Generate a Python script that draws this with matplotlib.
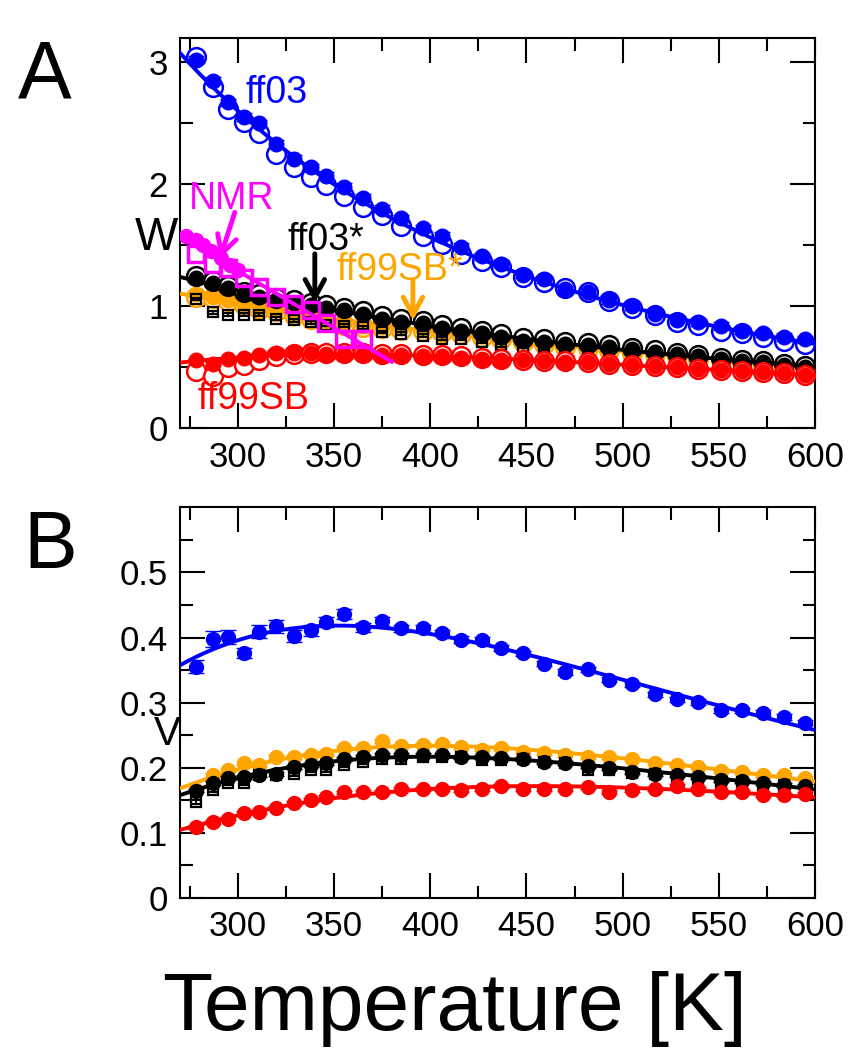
import numpy as np
import matplotlib.pyplot as plt

plt.rcParams['font.family'] = ['Liberation Sans', 'DejaVu Sans']

# replica temperatures [K]
temps = np.array([278, 287, 295, 303, 311, 320, 329, 338, 346, 355, 365, 375, 385, 396, 406, 416,
                  427, 437, 448, 459, 470, 482, 493, 505, 517, 528, 539, 551, 562, 573, 584, 595])

# ---- panel A: w ----
w_ff03 = [3.02, 2.85, 2.67, 2.55, 2.50, 2.33, 2.21, 2.14, 2.07, 1.98, 1.89, 1.80, 1.72, 1.64, 1.58, 1.49,
          1.41, 1.35, 1.26, 1.22, 1.14, 1.12, 1.05, 1.00, 0.94, 0.89, 0.87, 0.84, 0.80, 0.78, 0.75, 0.73]
w_ff03_open = [3.04, 2.80, 2.62, 2.51, 2.42, 2.25, 2.14, 2.06, 1.99, 1.90, 1.81, 1.75, 1.66, 1.58, 1.51, 1.43,
               1.37, 1.32, 1.24, 1.20, 1.15, 1.12, 1.04, 0.99, 0.93, 0.87, 0.85, 0.80, 0.78, 0.75, 0.72, 0.69]
w_ff03s = [1.23, 1.19, 1.15, 1.10, 1.08, 1.05, 1.03, 1.01, 0.99, 0.97, 0.94, 0.90, 0.87, 0.86, 0.82, 0.80,
           0.78, 0.75, 0.72, 0.71, 0.69, 0.68, 0.67, 0.65, 0.63, 0.61, 0.59, 0.57, 0.55, 0.54, 0.52, 0.50]
w_ff03s_open = [1.25, 1.21, 1.17, 1.12, 1.10, 1.07, 1.05, 1.03, 1.01, 0.99, 0.96, 0.92, 0.90, 0.88, 0.85, 0.82,
                0.80, 0.77, 0.74, 0.73, 0.71, 0.70, 0.68, 0.66, 0.64, 0.62, 0.60, 0.58, 0.56, 0.55, 0.53, 0.51]
w_ff03s_sq = [1.06, 0.95, 0.93, 0.93, 0.93, 0.90, 0.885, 0.87, 0.85, 0.84, 0.83, 0.79, 0.775, 0.76, 0.735, 0.735,
              0.71, 0.68, 0.67, 0.65, 0.63, 0.62, 0.60, 0.58, 0.57, 0.55, 0.54, 0.52, 0.51, 0.49, 0.48, 0.46]
w_ff99sbs = [1.10, 1.08, 1.05, 1.02, 0.99, 0.97, 0.94, 0.91, 0.88, 0.86, 0.84, 0.83, 0.82, 0.81, 0.80, 0.78,
             0.76, 0.74, 0.72, 0.70, 0.68, 0.67, 0.65, 0.63, 0.62, 0.60, 0.58, 0.57, 0.55, 0.54, 0.52, 0.51]
w_ff99sbs_open = [1.08, 1.07, 1.04, 1.01, 0.98, 0.96, 0.93, 0.90, 0.87, 0.85, 0.83, 0.82, 0.81, 0.80, 0.79, 0.77,
                  0.75, 0.73, 0.71, 0.69, 0.67, 0.66, 0.64, 0.62, 0.61, 0.59, 0.57, 0.56, 0.54, 0.53, 0.51, 0.50]
w_ff99sb = [0.56, 0.53, 0.57, 0.58, 0.60, 0.62, 0.62, 0.62, 0.61, 0.61, 0.61, 0.60, 0.60, 0.59, 0.59, 0.58,
            0.57, 0.56, 0.56, 0.55, 0.54, 0.54, 0.53, 0.52, 0.51, 0.50, 0.49, 0.48, 0.47, 0.46, 0.45, 0.44]
w_ff99sb_open = [0.47, 0.43, 0.50, 0.52, 0.56, 0.59, 0.61, 0.62, 0.62, 0.62, 0.62, 0.61, 0.61, 0.60, 0.60, 0.59,
                 0.58, 0.57, 0.56, 0.55, 0.55, 0.54, 0.53, 0.52, 0.51, 0.50, 0.49, 0.48, 0.47, 0.46, 0.45, 0.44]
nmr_temps = [273, 278, 282, 286, 291, 296, 300]
w_nmr = [1.58, 1.54, 1.50, 1.45, 1.40, 1.34, 1.30]
nmr_sq_temps = [278, 287, 295, 303, 311, 320, 329, 338, 346, 355, 365]
w_nmr_sq = [1.43, 1.35, 1.31, 1.23, 1.16, 1.08, 1.02, 0.97, 0.86, 0.735, 0.735]

# ---- panel B: v ----
v_ff03 = [0.355, 0.398, 0.401, 0.376, 0.409, 0.417, 0.402, 0.411, 0.424, 0.436, 0.416, 0.425, 0.414, 0.414, 0.407, 0.397,
          0.396, 0.384, 0.376, 0.360, 0.347, 0.351, 0.335, 0.328, 0.313, 0.305, 0.301, 0.288, 0.288, 0.284, 0.278, 0.269]
v_ff03_err = [0.010, 0.012, 0.011, 0.008, 0.010, 0.010, 0.009, 0.008, 0.008, 0.008, 0.007, 0.007, 0.006, 0.006, 0.005, 0.005,
              0.005, 0.004, 0.004, 0.004, 0.004, 0.004, 0.004, 0.004, 0.004, 0.004, 0.004, 0.004, 0.004, 0.004, 0.004, 0.004]
v_ff99sbs = [0.166, 0.189, 0.196, 0.207, 0.204, 0.216, 0.217, 0.219, 0.221, 0.231, 0.231, 0.241, 0.233, 0.235, 0.237, 0.232,
             0.228, 0.230, 0.224, 0.223, 0.220, 0.216, 0.216, 0.213, 0.208, 0.204, 0.201, 0.195, 0.194, 0.189, 0.189, 0.184]
v_ff03s = [0.165, 0.176, 0.184, 0.186, 0.189, 0.191, 0.201, 0.204, 0.207, 0.213, 0.216, 0.219, 0.219, 0.219, 0.219, 0.217,
           0.216, 0.215, 0.214, 0.209, 0.207, 0.202, 0.200, 0.194, 0.191, 0.189, 0.186, 0.181, 0.180, 0.176, 0.174, 0.172]
v_ff03s_sq = [0.148, 0.166, 0.176, 0.176, 0.189, 0.189, 0.191, 0.196, 0.196, 0.204, 0.209, 0.214, 0.214, 0.217, 0.217, 0.217,
              0.212, 0.212, 0.213, 0.209, 0.207, 0.197, 0.197, 0.192, 0.191, 0.186, 0.182, 0.176, 0.178, 0.173, 0.173, 0.166]
v_ff99sb = [0.109, 0.116, 0.122, 0.130, 0.132, 0.138, 0.146, 0.151, 0.155, 0.162, 0.163, 0.163, 0.167, 0.167, 0.167, 0.166,
            0.168, 0.172, 0.168, 0.167, 0.168, 0.171, 0.163, 0.166, 0.168, 0.172, 0.168, 0.162, 0.163, 0.158, 0.158, 0.160]

BLUE, BLACK, ORANGE, RED, MAGENTA = '#0000ff', '#000000', '#ffa500', '#ff0000', '#ff00ff'

fig = plt.figure(figsize=(8.62, 10.5), dpi=100)
axA = fig.add_axes([0.209, 0.592, 0.7365, 0.372])
axB = fig.add_axes([0.209, 0.1448, 0.7365, 0.372])

tfit = np.linspace(270, 600, 300)


def fit_line(ax, x, y, color, x_range=tfit, z=2):
    # van't Hoff style fit with heat capacity: ln y = a + b/T + c ln T
    x = np.asarray(x, float)
    basis = lambda t: np.column_stack([np.ones_like(t), 1.0 / t, np.log(t)])
    coef, *_ = np.linalg.lstsq(basis(x), np.log(y), rcond=None)
    ax.plot(x_range, np.exp(basis(x_range) @ coef), color=color, lw=2.8, zorder=z)


def pts(ax, y, color, err, z, open_=False, marker='o', ms=10.5, x=temps):
    face = 'white' if open_ else color
    mew = 1.8 if open_ else 1
    ax.errorbar(x, y, yerr=err, fmt=marker, ms=ms, mfc=face, mec=color, mew=mew,
                ecolor=color, elinewidth=1.5, capsize=6, capthick=1.5, zorder=z)


def style_axes(ax):
    ax.set_xlim(270, 600)
    ax.set_xticks(np.arange(300, 601, 50))
    ax.set_xticks(np.arange(275, 601, 25), minor=True)
    ax.tick_params(which='both', direction='in', top=True, right=True, width=1.5,
                   labelsize=25, pad=9)
    ax.tick_params(which='major', length=18)
    ax.tick_params(which='minor', length=9)
    for s in ax.spines.values():
        s.set_linewidth(1.5)


# ---------------- panel A ----------------
pts(axA, w_ff99sbs_open, ORANGE, 0.01, 3, open_=True, ms=13.5)
pts(axA, w_ff99sbs, ORANGE, 0.01, 3.1)
fit_line(axA, temps, w_ff99sbs, ORANGE, z=3.2)
axA.errorbar(temps, w_ff03s_sq, yerr=0.012, fmt='s', ms=7.5, mfc='none', mec=BLACK, mew=1.6,
             ecolor=BLACK, elinewidth=1.2, capsize=4, capthick=1.2, zorder=3.5)
pts(axA, w_ff03s_open, BLACK, 0.01, 4, open_=True, ms=13.5)
pts(axA, w_ff03s, BLACK, 0.01, 4.1)
fit_line(axA, temps, w_ff03s, BLACK, z=4.2)
pts(axA, w_ff99sb_open, RED, 0.02, 5, open_=True, ms=13.5)
pts(axA, w_ff99sb, RED, 0.01, 5.1)
fit_line(axA, temps, w_ff99sb, RED, z=5.2)
# NMR
nmr_x = np.linspace(270, 380, 100)
c = np.polyfit(np.r_[nmr_temps, nmr_sq_temps], np.r_[w_nmr, w_nmr_sq], 1)
axA.plot(nmr_x, np.polyval(c, nmr_x), color=MAGENTA, lw=2.8, zorder=6)
axA.plot(nmr_temps, w_nmr, 'o', ms=10, color=MAGENTA, zorder=6.1)
axA.plot(nmr_sq_temps, w_nmr_sq, 's', ms=11, mfc='none', mec=MAGENTA, mew=2.5, zorder=6.2)
# ff03
pts(axA, w_ff03_open, BLUE, 0.03, 7, open_=True, ms=13.5)
pts(axA, w_ff03, BLUE, 0.03, 7.1)
fit_line(axA, np.r_[temps, temps], np.r_[w_ff03, w_ff03_open], BLUE, z=7.2)

style_axes(axA)
axA.set_ylim(0, 3.2)
axA.set_yticks([0, 1, 2, 3])
axA.set_yticks(np.arange(0.5, 3.2, 1.0), minor=True)

lab_kw = dict(fontsize=27, ha='center', va='center', zorder=10)
axA.text(320, 2.75, 'ff03', color=BLUE, **lab_kw)
axA.text(297, 1.88, 'NMR', color=MAGENTA, **lab_kw)
axA.text(346, 1.54, 'ff03*', color=BLACK, **lab_kw)
axA.text(384, 1.30, 'ff99SB*', color=ORANGE, **lab_kw)
axA.text(308, 0.24, 'ff99SB', color=RED, **lab_kw)

arrow_kw = dict(arrowstyle='->,head_length=1.3,head_width=0.7', lw=3.5, shrinkA=0, shrinkB=0)
axA.annotate('', xy=(290.6, 1.39), xytext=(298.4, 1.77),
             arrowprops=dict(color=MAGENTA, **arrow_kw), zorder=11)
axA.annotate('', xy=(340, 1.03), xytext=(340, 1.43),
             arrowprops=dict(color=BLACK, **arrow_kw), zorder=11)
axA.annotate('', xy=(391, 0.885), xytext=(391, 1.21),
             arrowprops=dict(color=ORANGE, **arrow_kw), zorder=11)

# ---------------- panel B ----------------
pts(axB, v_ff99sbs, ORANGE, 0.003, 3, ms=10)
fit_line(axB, temps, v_ff99sbs, ORANGE, z=3.2)
axB.errorbar(temps, v_ff03s_sq, yerr=0.003, fmt='s', ms=7.5, mfc='none', mec=BLACK, mew=1.6,
             ecolor=BLACK, elinewidth=1.2, capsize=4, capthick=1.2, zorder=3.5)
pts(axB, v_ff03s, BLACK, 0.003, 4, ms=10)
fit_line(axB, temps, v_ff03s, BLACK, z=4.2)
pts(axB, v_ff99sb, RED, 0.003, 5, ms=10)
fit_line(axB, temps, v_ff99sb, RED, z=5.2)
pts(axB, v_ff03, BLUE, v_ff03_err, 7, ms=10)
fit_line(axB, temps, v_ff03, BLUE, z=7.2)

style_axes(axB)
axB.set_ylim(0, 0.6)
axB.set_yticks([0, 0.1, 0.2, 0.3, 0.4, 0.5])
axB.set_yticklabels(['0', '0.1', '0.2', '0.3', '0.4', '0.5'])
axB.set_yticks(np.arange(0.05, 0.6, 0.1), minor=True)

# labels
fig.text(0.021, 0.9067, 'A', fontsize=58, ha='left', va='baseline')
fig.text(0.027, 0.459, 'B', fontsize=58, ha='left', va='baseline')
fig.text(0.182, 0.762, 'W', fontsize=33, ha='center', va='baseline')
fig.text(0.194, 0.2905, 'V', fontsize=29, ha='center', va='baseline')
fig.text(0.528, 0.019, 'Temperature [K]', fontsize=59, ha='center', va='baseline')

fig.savefig('out.png', dpi=100)
